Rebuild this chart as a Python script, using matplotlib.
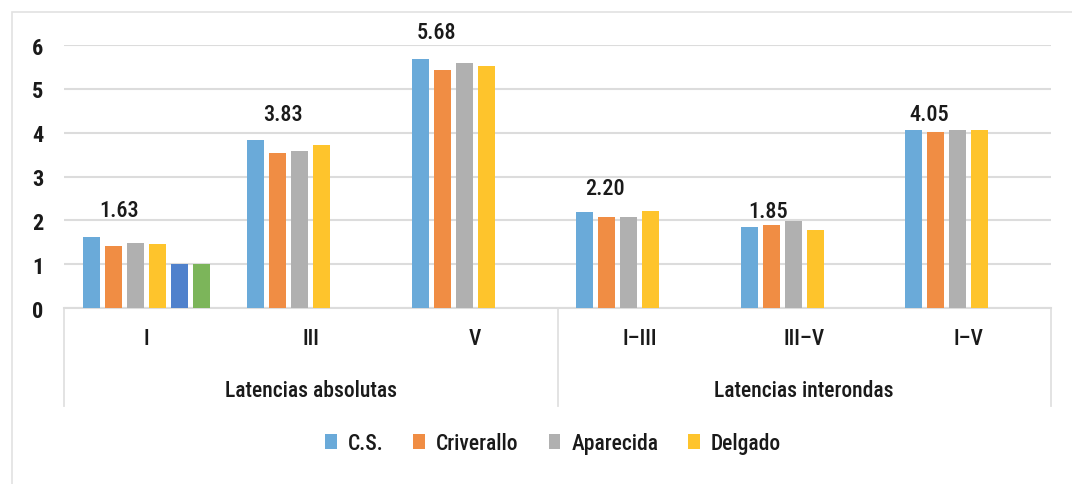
import matplotlib
matplotlib.use("Agg")
import matplotlib.pyplot as plt
from matplotlib.patches import Rectangle
import numpy as np

plt.rcParams['font.family'] = ['Roboto Condensed', 'DejaVu Sans']

categories = ["I", "III", "V", "I\u2013III", "III\u2013V", "I\u2013V"]
groups = ["Latencias absolutas", "Latencias interondas"]
series_names = ["C.S.", "Criverallo", "Aparecida", "Delgado"]
cs = [1.63, 3.83, 5.68, 2.20, 1.85, 4.05]
criverallo = [1.42, 3.53, 5.42, 2.08, 1.89, 4.02]
aparecida = [1.48, 3.59, 5.60, 2.08, 1.98, 4.07]
delgado = [1.47, 3.72, 5.52, 2.22, 1.79, 4.05]
extra1 = [1.0, np.nan, np.nan, np.nan, np.nan, np.nan]
extra2 = [1.0, np.nan, np.nan, np.nan, np.nan, np.nan]
yticks = [0, 1, 2, 3, 4, 5, 6]
label_values = ["1.63", "3.83", "5.68", "2.20", "1.85", "4.05"]

colors = ['#6aaad9', '#f08d44', '#b0b0b0', '#fec42c', '#4f81cc', '#7cb55a']
label_dx = [28, 27, 16, 20, 19, 15]
label_dy = [27, 26, 27, 24, 16, 16]
FS = 15.5
TXT = '#1a1a1a'

W, H = 1072, 485
fig = plt.figure(figsize=(W / 100, H / 100), dpi=100)
fig.patch.set_facecolor('white')
fig.patches.append(Rectangle((12 / W, -0.1), 1.2, (H - 13) / H + 0.1,
                             transform=fig.transFigure, fill=False,
                             edgecolor='#e2e2e2', linewidth=1.2))

ax = fig.add_axes([64 / W, (H - 309) / H, 987 / W, 263 / H])
x = np.arange(len(categories))
all_series = [cs, criverallo, aparecida, delgado, extra1, extra2]
step = 22 / 164.5
bw = 17 / 164.5
bars = []
for j, vals in enumerate(all_series):
    b = ax.bar(x + (j - 2.5) * step, vals, width=bw, color=colors[j],
               zorder=3, label=series_names[j] if j < 4 else None)
    bars.append(b)

for i, txt in enumerate(label_values):
    ax.annotate(txt, (x[i] - 2.5 * step, cs[i]), xytext=(label_dx[i], label_dy[i]),
                textcoords='offset pixels', ha='center', va='center',
                fontsize=FS + 0.5, fontweight='medium', color=TXT, annotation_clip=False)

ax.set_xlim(-0.5, len(categories) - 0.5)
ax.set_ylim(0, 6)
ax.set_yticks(yticks)
ax.set_yticklabels([str(t) for t in yticks], fontsize=FS + 0.5, fontweight='bold', color=TXT)
ax.yaxis.grid(True, color='#dcdcdc', linewidth=1.5, zorder=0)
ax.set_axisbelow(True)
ax.tick_params(axis='y', length=0, pad=15)
ax.set_xticks(x)
ax.set_xticklabels(categories, fontsize=FS, fontweight='medium', color=TXT)
ax.tick_params(axis='x', length=0, pad=14)
for s in ['top', 'right', 'left']:
    ax.spines[s].set_visible(False)
ax.spines['bottom'].set_color('#dcdcdc')
ax.spines['bottom'].set_linewidth(1.5)

tr = ax.get_xaxis_transform()
for xv in [-0.5, 2.5, 5.5]:
    ax.plot([xv, xv], [0, -0.373], transform=tr, color='#e0e0e0',
            linewidth=1.3, clip_on=False)
for gi, g in enumerate(groups):
    ax.text(1 + 3 * gi, -0.312, g, transform=tr, ha='center', va='center',
            fontsize=FS, fontweight='medium', color=TXT)

leg = fig.legend(handles=bars[:4], labels=series_names, loc='center',
                 bbox_to_anchor=(553 / W, (H - 444) / H), ncol=4, frameon=False,
                 prop={'size': FS, 'weight': 'medium'},
                 handlelength=0.55, handleheight=0.7,
                 handletextpad=0.5, columnspacing=1.4)
for t in leg.get_texts():
    t.set_color(TXT)

fig.savefig('out.png', dpi=100)
